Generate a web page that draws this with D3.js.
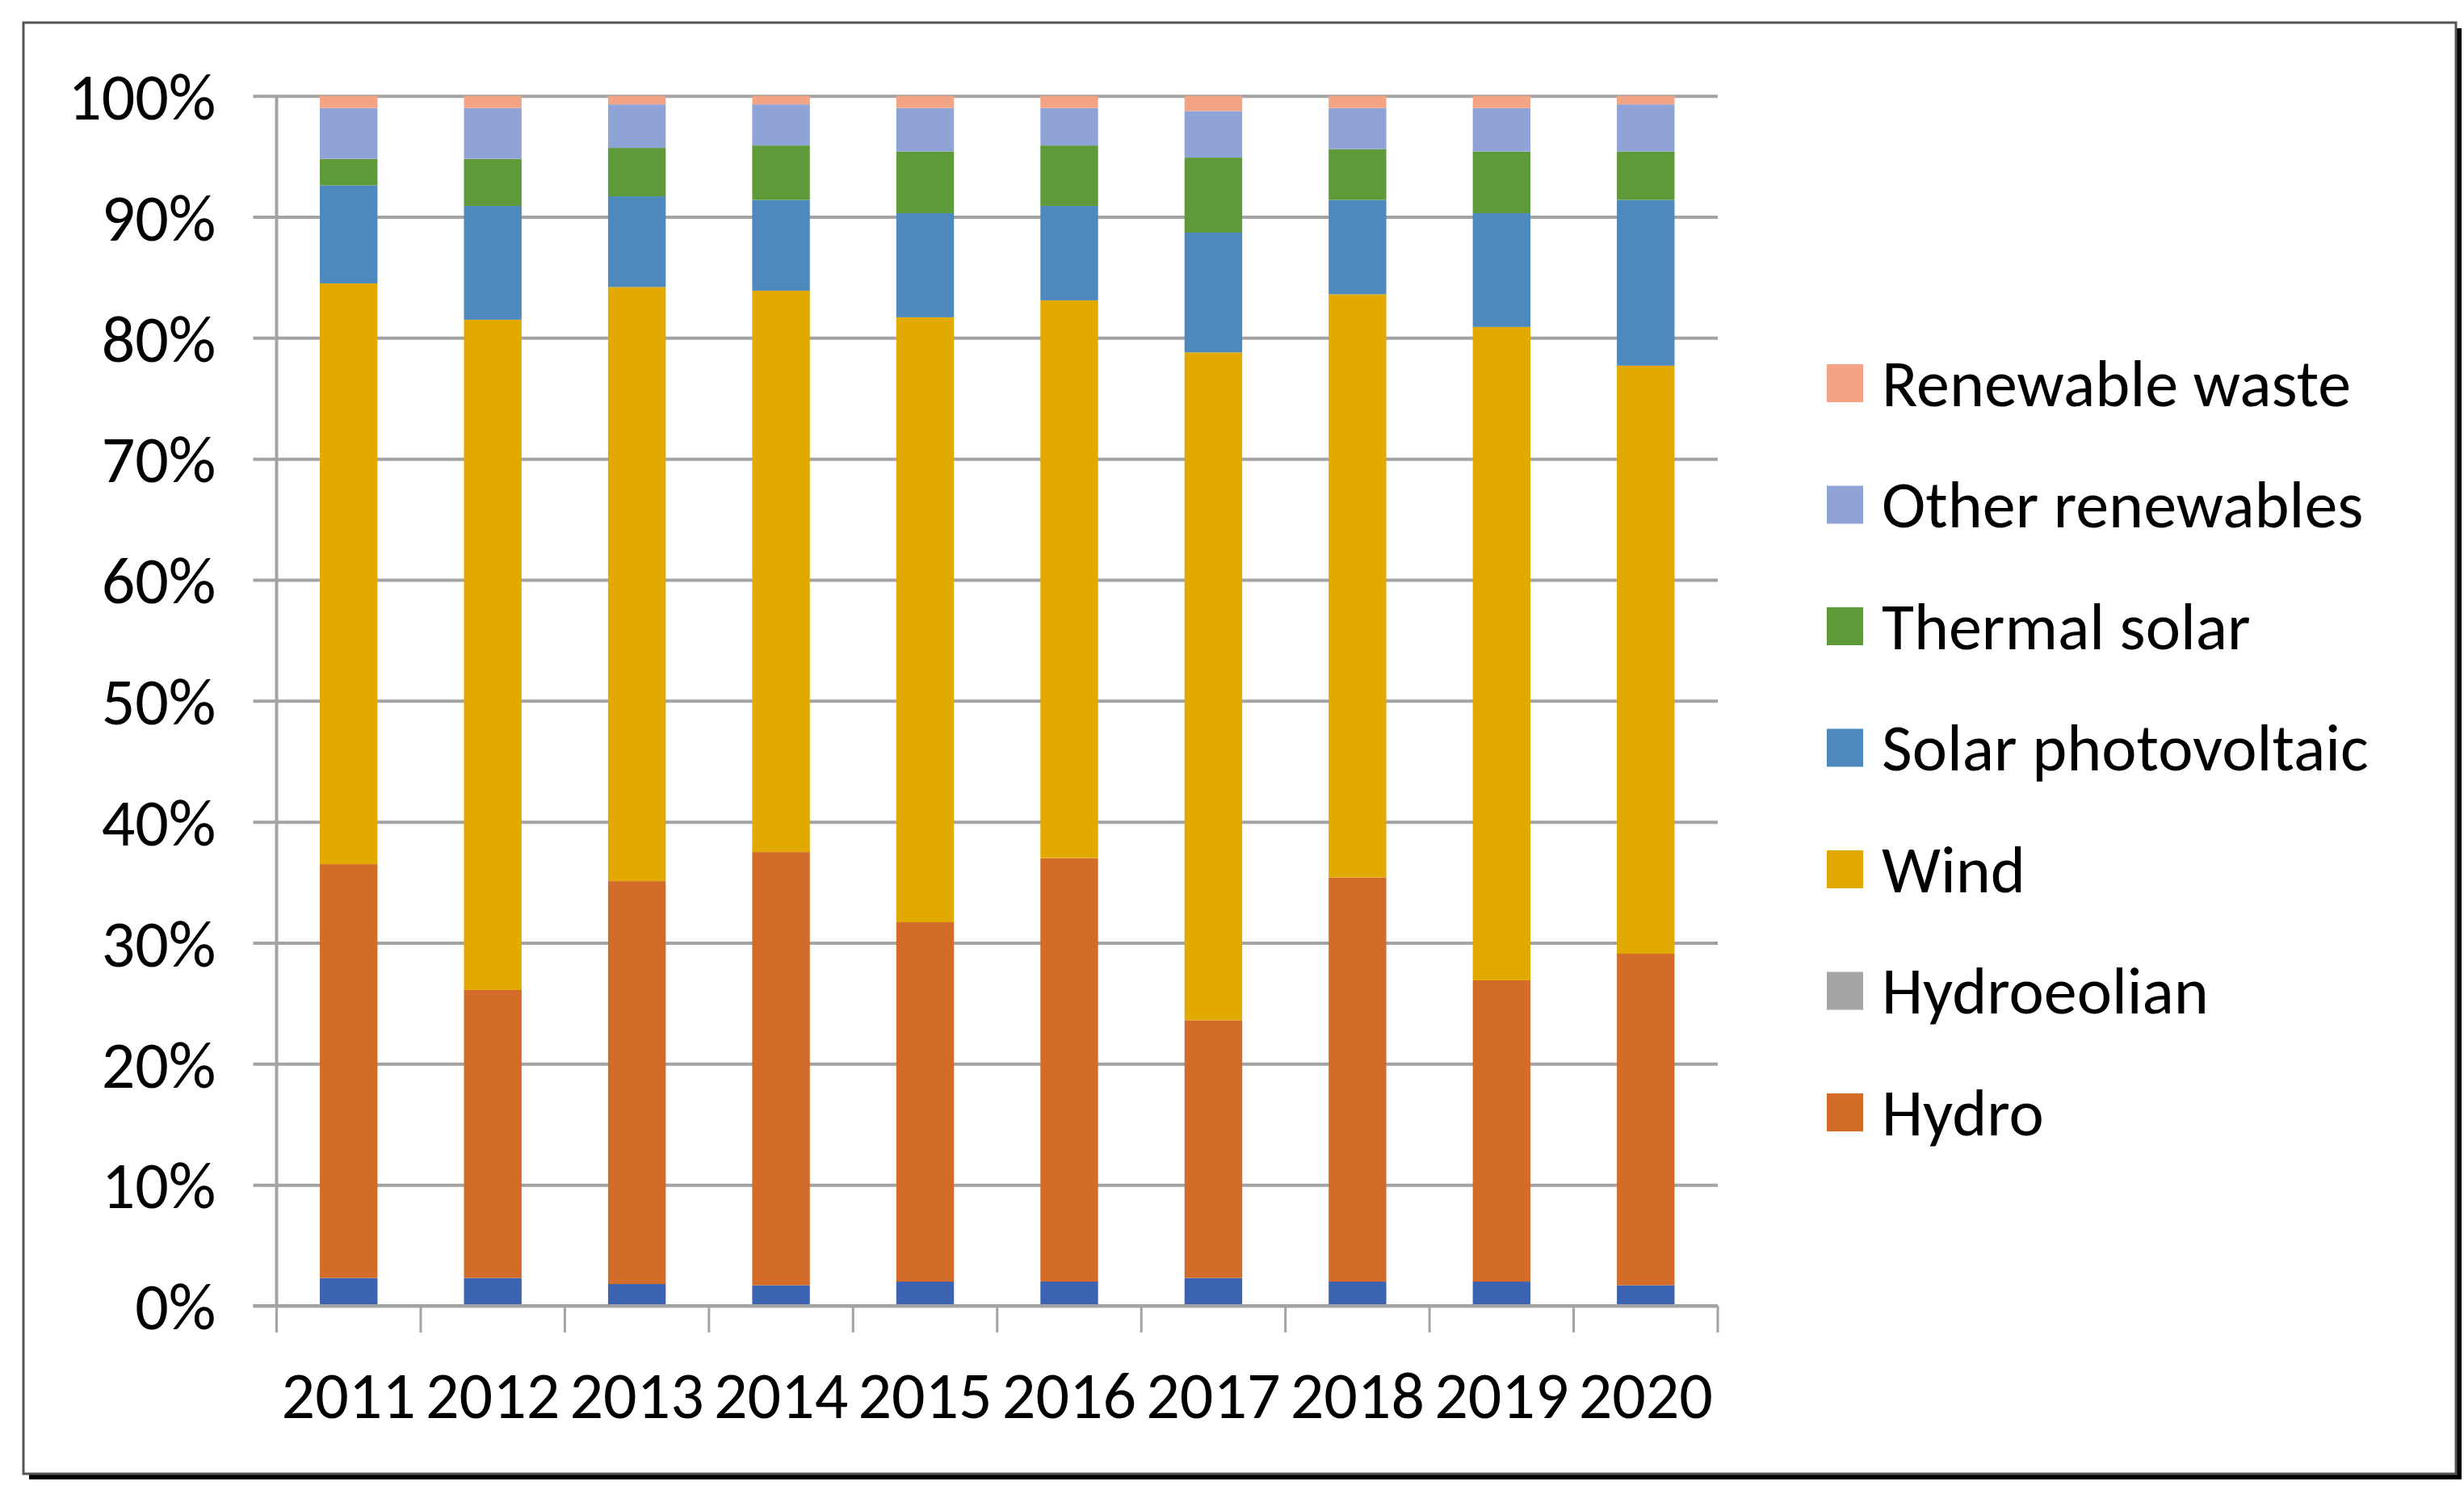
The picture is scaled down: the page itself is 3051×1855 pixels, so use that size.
<!DOCTYPE html>
<html>
<head>
<meta charset="utf-8">
<script src="https://cdn.jsdelivr.net/npm/d3@7"></script>
<style>
  body { margin: 0; background: #fff; }
  text { font-family: Carlito, "Liberation Sans Narrow", Lato, sans-serif; fill: #000; }
</style>
</head>
<body>
<div id="chart"></div>
<script>
// share of renewable generation by technology (%)
var years = ["2011", "2012", "2013", "2014", "2015", "2016", "2017", "2018", "2019", "2020"];

var baseBlue = [2.3, 2.3, 1.8, 1.7, 2.0, 2.0, 2.3, 2.0, 2.0, 1.7]; // bottom series, not in legend
var hydro = [34.2, 23.8, 33.3, 35.8, 29.7, 35.0, 21.3, 33.4, 24.9, 27.4];
var hydroeolian = [0, 0, 0, 0, 0, 0, 0, 0, 0, 0];
var wind = [48.0, 55.4, 49.1, 46.4, 50.0, 46.1, 55.2, 48.2, 54.0, 48.6];
var solarPV = [8.1, 9.4, 7.5, 7.5, 8.6, 7.8, 9.9, 7.8, 9.4, 13.7];
var thermalSolar = [2.2, 3.9, 4.0, 4.5, 5.1, 5.0, 6.2, 4.2, 5.1, 4.0];
var otherRenewables = [4.2, 4.2, 3.6, 3.4, 3.6, 3.1, 3.85, 3.4, 3.6, 3.9];
var renewableWaste = [1.0, 1.0, 0.7, 0.7, 1.0, 1.0, 1.25, 1.0, 1.0, 0.7];

var seriesKeys = ["Base", "Hydro", "Hydroeolian", "Wind", "Solar photovoltaic", "Thermal solar", "Other renewables", "Renewable waste"];
var seriesValues = [baseBlue, hydro, hydroeolian, wind, solarPV, thermalSolar, otherRenewables, renewableWaste];
var seriesColors = ["#3B63B2", "#D36C28", "#A5A5A5", "#E2AA00", "#4E89BE", "#5E9A39", "#8FA3D6", "#F3A484"];
var legendKeys = ["Renewable waste", "Other renewables", "Thermal solar", "Solar photovoltaic", "Wind", "Hydroeolian", "Hydro"];

var yTicks = [0, 0.1, 0.2, 0.3, 0.4, 0.5, 0.6, 0.7, 0.8, 0.9, 1];

var width = 3051;
var height = 1855;

var plotLeft = 342.5, plotRight = 2127;
var plotTop = 118.7, plotBottom = 1617;

var svg = d3.select("#chart").append("svg")
    .attr("width", width)
    .attr("height", height);

// frame with its little shadow
svg.append("rect")
    .attr("x", 36).attr("y", 35)
    .attr("width", 3012).attr("height", 1797)
    .style("fill", "#000");
svg.append("rect")
    .attr("x", 29).attr("y", 28)
    .attr("width", 3012).attr("height", 1797)
    .style("fill", "#fff")
    .style("stroke", "#555")
    .style("stroke-width", 3);

// table for the stack
var table = years.map(function(yr, i) {
    var row = { year: yr };
    seriesKeys.forEach(function(k, j) { row[k] = seriesValues[j][i]; });
    return row;
});

var stacked = d3.stack()
    .keys(seriesKeys)
    .offset(d3.stackOffsetExpand)(table);

var color = d3.scaleOrdinal().domain(seriesKeys).range(seriesColors);

var x = d3.scaleBand()
    .domain(years)
    .range([plotLeft, plotRight])
    .paddingInner(0.6)
    .paddingOuter(0.3);

var y = d3.scaleLinear()
    .domain([0, 1])
    .range([plotBottom, plotTop]);

// gridlines + y labels
var yAxis = svg.append("g")
    .attr("transform", "translate(" + (plotLeft - 29) + ",0)")
    .call(d3.axisLeft(y)
        .tickValues(yTicks)
        .tickFormat(d3.format(".0%"))
        .tickSize(-(plotRight - plotLeft + 29))
        .tickPadding(46));
yAxis.select(".domain").remove();
yAxis.selectAll(".tick line")
    .style("stroke", "#A3A3A3")
    .style("stroke-width", 4);
yAxis.selectAll(".tick text")
    .style("font-size", "82px")
    .attr("dy", "0.35em");

// vertical axis line
svg.append("line")
    .attr("x1", plotLeft).attr("x2", plotLeft)
    .attr("y1", y(1)).attr("y2", y(0))
    .style("stroke", "#A3A3A3")
    .style("stroke-width", 4);

// bars
svg.append("g")
    .selectAll("g")
    .data(stacked)
    .enter().append("g")
    .style("fill", function(d) { return color(d.key); })
    .selectAll("rect")
    .data(function(d) { return d; })
    .enter().append("rect")
    .attr("x", function(d) { return x(d.data.year); })
    .attr("width", x.bandwidth())
    .attr("y", function(d) { return y(d[1]); })
    .attr("height", function(d) { return y(d[0]) - y(d[1]); });

// x axis line and category boundary ticks
svg.append("line")
    .attr("x1", plotLeft - 29).attr("x2", plotRight)
    .attr("y1", y(0)).attr("y2", y(0))
    .style("stroke", "#A3A3A3")
    .style("stroke-width", 4);

svg.append("g")
    .selectAll("line")
    .data(d3.range(years.length + 1))
    .enter().append("line")
    .attr("x1", function(i) { return plotLeft + i * x.step(); })
    .attr("x2", function(i) { return plotLeft + i * x.step(); })
    .attr("y1", y(0))
    .attr("y2", y(0) + 33)
    .style("stroke", "#A3A3A3")
    .style("stroke-width", 3);

var xAxis = svg.append("g")
    .attr("transform", "translate(0," + y(0) + ")")
    .call(d3.axisBottom(x).tickSize(0).tickPadding(0));
xAxis.select(".domain").remove();
xAxis.selectAll(".tick text")
    .attr("y", 110)
    .attr("dy", "0.35em")
    .style("font-size", "82px");

// legend
var legend = svg.append("g")
    .selectAll("g")
    .data(legendKeys)
    .enter().append("g")
    .attr("transform", function(d, i) { return "translate(2262," + (474 + i * 150.5) + ")"; });

legend.append("rect")
    .attr("x", 0).attr("y", -23)
    .attr("width", 45).attr("height", 47)
    .style("fill", function(d) { return color(d); });

legend.append("text")
    .attr("x", 68)
    .attr("dy", "0.35em")
    .style("font-size", "82px")
    .text(function(d) { return d; });
</script>
</body>
</html>
